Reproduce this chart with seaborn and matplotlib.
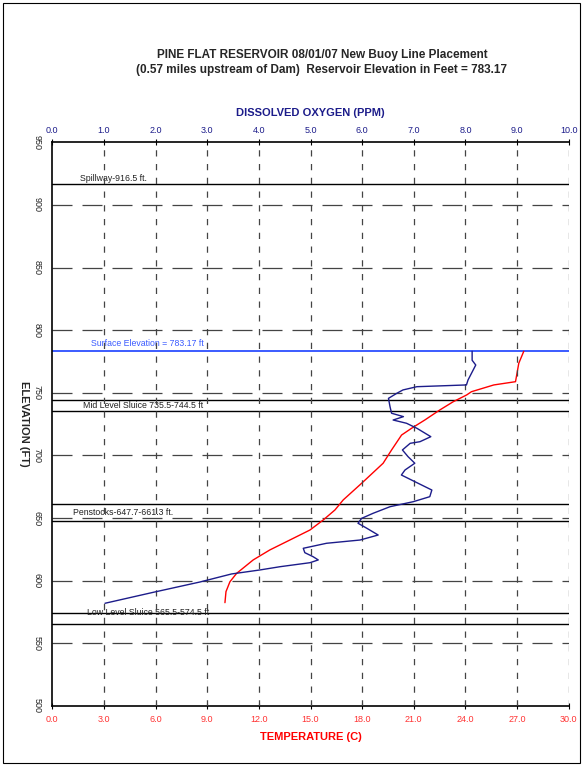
import numpy as np
import pandas as pd
import seaborn as sns
import matplotlib.pyplot as plt
import matplotlib.transforms as mtransforms
from matplotlib.patches import Rectangle
from matplotlib.ticker import FormatStrFormatter

# dissolved oxygen profile (elevation ft, ppm)
do_elev = [783.17, 776.0, 772.2, 760.2, 756.3, 754.9, 752.3, 749.6, 745.6, 738.9,
           733.7, 731.0, 728.3, 725.7, 721.7, 715.0, 711.0, 709.7, 704.4, 699.0,
           693.8, 688.4, 684.4, 679.1, 672.4, 667.1, 663.1, 659.1, 653.8, 649.8,
           645.9, 641.9, 636.5, 632.5, 629.9, 625.9, 622.4, 619.2, 616.6, 614.4,
           611.2, 608.6, 605.4, 599.0, 590.8, 582.0]
do_ppm = [8.13, 8.13, 8.20, 8.05, 8.02, 7.06, 6.79, 6.67, 6.51, 6.54,
          6.57, 6.80, 6.60, 6.86, 7.06, 7.33, 7.12, 6.93, 6.78, 6.89,
          7.02, 6.83, 6.76, 7.02, 7.35, 7.31, 6.99, 6.54, 6.21, 5.99,
          5.92, 6.09, 6.31, 5.96, 5.31, 4.86, 4.89, 5.05, 5.15, 4.99,
          4.41, 4.02, 3.47, 2.86, 1.96, 1.02]

# temperature profile (elevation ft, deg C)
temp_elev = [783.17, 773.6, 758.9, 756.3, 750.9, 748.3, 742.9, 736.3, 728.3, 721.7,
             716.3, 704.4, 693.8, 677.8, 664.5, 656.5, 648.5, 640.5, 632.5, 624.6,
             616.6, 605.9, 599.2, 591.3, 582.5]
temp_c = [27.39, 27.10, 26.91, 25.65, 24.35, 24.07, 23.29, 22.51, 21.64, 20.87,
          20.29, 19.71, 19.22, 17.97, 16.90, 16.42, 15.74, 14.97, 13.80, 12.64,
          11.67, 10.71, 10.32, 10.09, 10.03]

# reference elevations
surface_elev = 783.17
ref_lines = [916.5, 744.5, 735.5, 661.3, 647.7, 574.5, 565.5]
ref_labels = ["Spillway-916.5 ft.", "Mid Level Sluice 735.5-744.5 ft",
              "Penstocks-647.7-661.3 ft.", "Low Level Sluice 565.5-574.5 ft"]
ref_label_y = [916.5, 740.0, 654.5, 574.5]

temp_ticks = np.arange(0, 31, 3)
do_ticks = np.arange(0, 11, 1)
elev_ticks = np.arange(500, 951, 50)

df_do = pd.DataFrame({"elev": do_elev, "do": do_ppm})
df_t = pd.DataFrame({"elev": temp_elev, "temp": temp_c})

sns.set_style("white")
plt.rcParams["font.family"] = ["Liberation Sans", "DejaVu Sans"]

W, H = 582, 765
fig = plt.figure(figsize=(W / 100, H / 100), dpi=100)
ax = fig.add_axes([52.3 / W, 1 - 706 / H, 516.4 / W, 563.7 / H])
ax2 = ax.twiny()

navy = "#1c1c8a"
red = "#ff0000"

sns.lineplot(data=df_t, x="temp", y="elev", sort=False, estimator=None,
             color=red, lw=1.0, ax=ax)
sns.lineplot(data=df_do, x="do", y="elev", sort=False, estimator=None,
             color=navy, lw=1.0, ax=ax2)

ax.set_xlim(0, 30)
ax2.set_xlim(0, 10)
ax.set_ylim(500, 950)
ax.set_xticks(temp_ticks)
ax2.set_xticks(do_ticks)
ax.set_yticks(elev_ticks)
ax.xaxis.set_major_formatter(FormatStrFormatter("%.1f"))
ax2.xaxis.set_major_formatter(FormatStrFormatter("%.1f"))
ax.set_xlabel("")
ax.set_ylabel("")
ax2.set_xlabel("")

# dashed grid
for x in do_ticks[1:]:
    ax2.axvline(x, color="#444444", lw=0.9, ls=(0, (5, 6)), zorder=0)
for y in elev_ticks[1:-1]:
    ax.axhline(y, color="#444444", lw=0.9, ls=(0, (16, 8)), zorder=0)

for y in ref_lines:
    ax.axhline(y, color="black", lw=1.0, zorder=1)
ax.axhline(surface_elev, color="#3b5bff", lw=1.4, zorder=1)

trans = mtransforms.blended_transform_factory(ax.transAxes, ax.transData)
fs = 6.3
ax.text(0.054, ref_label_y[0] + 0.8, ref_labels[0], transform=trans,
        fontsize=fs, va="bottom", color="#222222")
ax.text(0.06, ref_label_y[1], ref_labels[1], transform=trans,
        fontsize=fs, va="center", color="#222222")
ax.text(0.04, ref_label_y[2], ref_labels[2], transform=trans,
        fontsize=fs, va="center", color="#222222")
ax.text(0.067, ref_label_y[3], ref_labels[3], transform=trans,
        fontsize=fs, va="center", color="#222222")
ax.text(0.075, 789.0, "Surface Elevation = 783.17 ft", transform=trans,
        fontsize=fs, va="center", color="#3b5bff")

for a in (ax, ax2):
    for s in a.spines.values():
        s.set_visible(False)
ax.spines["left"].set_visible(True)
ax.spines["bottom"].set_visible(True)
ax2.spines["top"].set_visible(True)
for s in ("left", "bottom"):
    ax.spines[s].set_color("black")
    ax.spines[s].set_linewidth(1.2)
ax2.spines["top"].set_color("black")
ax2.spines["top"].set_linewidth(1.2)

ax.tick_params(axis="x", colors="black", labelcolor="#ff3333", labelsize=6.5,
               direction="inout", length=5, width=0.8, pad=4)
ax.tick_params(axis="y", colors="black", labelcolor="#222222", labelsize=6.5,
               direction="inout", length=5, width=0.8, pad=5)
ax2.tick_params(axis="x", colors="black", labelcolor=navy, labelsize=6.5,
                direction="inout", length=5, width=0.8, pad=3)
for lab in ax.get_yticklabels():
    lab.set_rotation(-90)
    lab.set_va("center")

cx = 310.5 / W
fig.text(322 / W, 1 - 55 / H, "PINE FLAT RESERVOIR 08/01/07 New Buoy Line Placement",
         ha="center", va="center", fontsize=8.5, fontweight="bold")
fig.text(322 / W, 1 - 70.5 / H,
         "(0.57 miles upstream of Dam)  Reservoir Elevation in Feet = 783.17",
         ha="center", va="center", fontsize=8.5, fontweight="bold")
fig.text(cx, 1 - 112.5 / H, "DISSOLVED OXYGEN (PPM)", ha="center", va="center",
         fontsize=8, fontweight="bold", color=navy)
fig.text(cx, 1 - 737 / H, "TEMPERATURE (C)", ha="center", va="center",
         fontsize=8, fontweight="bold", color=red)
fig.text(24 / W, 1 - 424 / H, "ELEVATION (FT)", ha="center", va="center",
         fontsize=8, fontweight="bold", rotation=-90)

fig.patches.append(Rectangle((2.5 / W, 2.5 / H), 577 / W, 760 / H,
                             transform=fig.transFigure, fill=False,
                             edgecolor="black", lw=0.8))

fig.savefig("out.png", dpi=100)
